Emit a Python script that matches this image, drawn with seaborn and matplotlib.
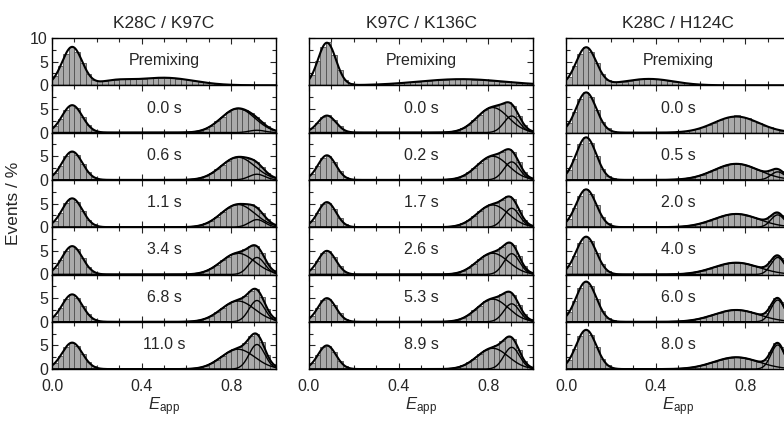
import numpy as np
import pandas as pd
import matplotlib
matplotlib.use("Agg")
import matplotlib.pyplot as plt
import seaborn as sns

sns.set_style("ticks")
plt.rcParams["font.family"] = ["Liberation Sans", "DejaVu Sans"]
plt.rcParams["mathtext.fontset"] = "custom"
plt.rcParams["mathtext.rm"] = "Liberation Sans"
plt.rcParams["mathtext.it"] = "Liberation Sans:italic"

titles = ["K28C / K97C", "K97C / K136C", "K28C / H124C"]
times_k28_k97 = ["Premixing", "0.0 s", "0.6 s", "1.1 s", "3.4 s", "6.8 s", "11.0 s"]
times_k97_k136 = ["Premixing", "0.0 s", "0.2 s", "1.7 s", "2.6 s", "5.3 s", "8.9 s"]
times_k28_h124 = ["Premixing", "0.0 s", "0.5 s", "2.0 s", "4.0 s", "6.0 s", "8.0 s"]

# E_app histogram, 40 bins of 0.025 between 0 and 1, events in %
n_bins = 40

hist_k28_k97 = [
    [1.9, 4.1, 6.7, 8.1, 7.1, 4.7, 2.4, 1.2, 0.9, 1.0, 1.1, 1.2, 1.3, 1.3, 1.3, 1.4, 1.4, 1.5, 1.6, 1.6,
     1.6, 1.5, 1.4, 1.3, 1.1, 0.9, 0.7, 0.6, 0.4, 0.3, 0.2, 0.1, 0.1, 0.1, 0, 0, 0, 0, 0, 0],
    [1.3, 2.9, 4.8, 5.8, 5.1, 3.3, 1.6, 0.6, 0.2, 0.1, 0, 0, 0, 0, 0, 0, 0, 0, 0, 0,
     0, 0, 0, 0.0, 0.1, 0.2, 0.4, 0.8, 1.5, 2.4, 3.4, 4.3, 5.0, 5.1, 4.8, 4.2, 3.3, 2.2, 1.3, 0.6],
    [1.4, 3.0, 5.0, 6.0, 5.3, 3.4, 1.6, 0.6, 0.2, 0.1, 0, 0, 0, 0, 0, 0, 0, 0, 0, 0,
     0, 0, 0, 0.0, 0.1, 0.2, 0.4, 0.8, 1.4, 2.2, 3.2, 4.1, 4.7, 4.9, 4.8, 4.5, 3.8, 2.7, 1.5, 0.7],
    [1.4, 3.1, 5.1, 6.1, 5.4, 3.5, 1.6, 0.6, 0.2, 0.1, 0, 0, 0, 0, 0, 0, 0, 0, 0, 0,
     0, 0, 0, 0.0, 0.1, 0.2, 0.4, 0.8, 1.4, 2.2, 3.2, 4.1, 4.7, 4.9, 4.9, 4.8, 4.2, 3.0, 1.7, 0.7],
    [1.4, 3.0, 5.0, 6.0, 5.3, 3.4, 1.6, 0.6, 0.2, 0.1, 0, 0, 0, 0, 0, 0, 0, 0, 0, 0,
     0, 0, 0, 0.0, 0.1, 0.2, 0.4, 0.7, 1.3, 2.1, 3.0, 3.8, 4.4, 4.8, 5.3, 6.0, 6.1, 4.5, 2.4, 0.9],
    [1.3, 2.9, 4.8, 5.8, 5.1, 3.3, 1.6, 0.6, 0.2, 0.1, 0, 0, 0, 0, 0, 0, 0, 0, 0, 0,
     0, 0, 0, 0.0, 0.1, 0.2, 0.4, 0.7, 1.3, 2.1, 2.9, 3.7, 4.3, 4.8, 5.5, 6.6, 6.9, 5.2, 2.7, 1.0],
    [1.3, 2.8, 4.6, 5.6, 4.9, 3.2, 1.5, 0.6, 0.2, 0.1, 0, 0, 0, 0, 0, 0, 0, 0, 0, 0,
     0, 0, 0, 0.0, 0.1, 0.2, 0.3, 0.7, 1.2, 2.0, 2.8, 3.6, 4.2, 4.6, 5.5, 6.9, 7.5, 5.7, 3.0, 1.1],
]

hist_k97_k136 = [
    [2.2, 5.1, 8.2, 9.2, 6.5, 3.2, 1.1, 0.4, 0.1, 0.1, 0.1, 0.2, 0.2, 0.3, 0.3, 0.4, 0.5, 0.6, 0.7, 0.8,
     0.9, 1.0, 1.1, 1.2, 1.2, 1.3, 1.3, 1.3, 1.3, 1.2, 1.2, 1.1, 1.0, 0.9, 0.8, 0.7, 0.6, 0.5, 0.4, 0.4],
    [0.9, 2.1, 3.3, 3.7, 2.6, 1.3, 0.4, 0.1, 0, 0, 0, 0, 0, 0, 0, 0, 0, 0, 0, 0,
     0, 0, 0, 0.0, 0.1, 0.2, 0.4, 0.9, 1.6, 2.7, 3.8, 4.8, 5.4, 5.7, 6.1, 6.4, 5.7, 3.5, 1.6, 0.5],
    [1.2, 3.0, 4.7, 5.1, 3.7, 1.8, 0.6, 0.2, 0, 0, 0, 0, 0, 0, 0, 0, 0, 0, 0, 0,
     0, 0, 0, 0.0, 0.1, 0.2, 0.4, 0.9, 1.6, 2.5, 3.6, 4.5, 5.1, 5.4, 6.0, 6.5, 5.8, 3.7, 1.6, 0.5],
    [1.3, 3.0, 4.8, 5.2, 3.8, 1.9, 0.6, 0.2, 0, 0, 0, 0, 0, 0, 0, 0, 0, 0, 0, 0,
     0, 0, 0, 0.0, 0.1, 0.2, 0.4, 0.8, 1.5, 2.4, 3.4, 4.2, 4.8, 5.2, 5.8, 6.5, 5.9, 3.7, 1.6, 0.5],
    [1.2, 2.9, 4.6, 4.9, 3.6, 1.8, 0.6, 0.2, 0, 0, 0, 0, 0, 0, 0, 0, 0, 0, 0, 0,
     0, 0, 0, 0.0, 0.1, 0.2, 0.4, 0.8, 1.4, 2.3, 3.2, 4.1, 4.6, 5.0, 5.9, 6.7, 6.2, 3.9, 1.7, 0.5],
    [1.2, 2.9, 4.6, 4.9, 3.6, 1.8, 0.6, 0.2, 0, 0, 0, 0, 0, 0, 0, 0, 0, 0, 0, 0,
     0, 0, 0, 0.0, 0.1, 0.2, 0.4, 0.8, 1.5, 2.4, 3.4, 4.3, 4.8, 5.2, 5.8, 6.4, 5.7, 3.6, 1.6, 0.5],
    [1.2, 2.9, 4.6, 4.9, 3.6, 1.8, 0.6, 0.2, 0, 0, 0, 0, 0, 0, 0, 0, 0, 0, 0, 0,
     0, 0, 0, 0.0, 0.1, 0.2, 0.4, 0.8, 1.4, 2.2, 3.1, 4.0, 4.5, 5.0, 5.9, 6.8, 6.4, 4.1, 1.8, 0.5],
]

hist_k28_h124 = [
    [1.8, 4.0, 6.6, 8.0, 7.1, 4.7, 2.4, 1.1, 0.7, 0.7, 0.8, 1.0, 1.2, 1.3, 1.4, 1.3, 1.3, 1.1, 1.0, 0.8,
     0.6, 0.4, 0.3, 0.2, 0.1, 0.1, 0, 0, 0, 0, 0, 0, 0, 0, 0, 0, 0, 0, 0, 0],
    [2.0, 4.3, 7.1, 8.5, 7.5, 4.8, 2.3, 0.9, 0.3, 0.1, 0, 0, 0, 0, 0, 0, 0, 0, 0, 0.1,
     0.2, 0.3, 0.5, 0.8, 1.1, 1.6, 2.1, 2.6, 3.0, 3.3, 3.8, 3.3, 3.0, 2.5, 2.0, 1.5, 1.1, 0.7, 0.4, 0.3],
    [2.1, 4.5, 7.5, 9.0, 7.9, 5.1, 2.4, 0.9, 0.3, 0.1, 0, 0, 0, 0, 0, 0, 0, 0, 0, 0.1,
     0.2, 0.3, 0.5, 0.8, 1.1, 1.6, 2.1, 2.6, 3.0, 3.3, 3.4, 3.3, 3.0, 2.5, 2.1, 1.8, 2.0, 2.3, 1.9, 0.9],
    [1.8, 4.0, 6.6, 8.0, 7.0, 4.6, 2.2, 0.8, 0.2, 0.1, 0, 0, 0, 0, 0, 0, 0, 0, 0, 0.1,
     0.1, 0.2, 0.4, 0.6, 0.9, 1.3, 1.7, 2.2, 2.5, 2.7, 2.8, 2.7, 2.4, 2.1, 1.7, 1.7, 2.3, 3.1, 2.6, 1.2],
    [1.8, 4.0, 6.6, 8.0, 7.0, 4.6, 2.2, 0.8, 0.2, 0.1, 0, 0, 0, 0, 0, 0, 0, 0, 0, 0.1,
     0.1, 0.2, 0.4, 0.6, 0.8, 1.2, 1.6, 1.9, 2.2, 2.4, 2.5, 2.4, 2.2, 1.9, 1.6, 1.7, 2.8, 4.0, 3.4, 1.5],
    [2.0, 4.3, 7.1, 8.5, 7.5, 4.8, 2.3, 0.9, 0.3, 0.1, 0, 0, 0, 0, 0, 0, 0, 0, 0, 0.1,
     0.1, 0.2, 0.4, 0.6, 0.8, 1.2, 1.6, 1.9, 2.2, 2.4, 2.5, 2.4, 2.2, 1.9, 1.6, 1.8, 3.4, 5.0, 4.2, 1.9],
    [1.9, 4.2, 6.9, 8.3, 7.3, 4.7, 2.2, 0.8, 0.2, 0.1, 0, 0, 0, 0, 0, 0, 0, 0, 0, 0.1,
     0.1, 0.2, 0.4, 0.6, 0.8, 1.2, 1.6, 1.9, 2.2, 2.4, 2.5, 2.4, 2.2, 1.9, 1.6, 1.9, 3.6, 5.5, 4.7, 2.1],
]

# gaussian fit components: (amplitude %, centre, width)
fit_k28_k97 = [
    [(8.1, 0.09, 0.045), (0.8, 0.28, 0.07), (1.6, 0.50, 0.13)],
    [(5.8, 0.09, 0.045), (5.1, 0.83, 0.075), (0.5, 0.915, 0.035)],
    [(6.0, 0.09, 0.045), (4.8, 0.83, 0.075), (1.2, 0.915, 0.035)],
    [(6.1, 0.09, 0.045), (4.8, 0.83, 0.075), (1.6, 0.915, 0.035)],
    [(6.0, 0.09, 0.045), (4.5, 0.83, 0.075), (3.6, 0.915, 0.035)],
    [(5.8, 0.09, 0.045), (4.4, 0.83, 0.075), (4.5, 0.915, 0.035)],
    [(5.6, 0.09, 0.045), (4.2, 0.83, 0.075), (5.2, 0.915, 0.035)],
]
fit_k97_k136 = [
    [(9.0, 0.08, 0.04), (1.3, 0.68, 0.19)],
    [(3.6, 0.08, 0.04), (5.3, 0.82, 0.07), (3.5, 0.905, 0.035)],
    [(5.2, 0.08, 0.04), (5.0, 0.82, 0.07), (3.8, 0.905, 0.035)],
    [(5.3, 0.08, 0.04), (4.7, 0.82, 0.07), (4.0, 0.905, 0.035)],
    [(5.0, 0.08, 0.04), (4.5, 0.82, 0.07), (4.4, 0.905, 0.035)],
    [(5.0, 0.08, 0.04), (4.8, 0.82, 0.07), (3.8, 0.905, 0.035)],
    [(5.0, 0.08, 0.04), (4.4, 0.82, 0.07), (4.6, 0.905, 0.035)],
]
fit_k28_h124 = [
    [(8.0, 0.09, 0.045), (1.35, 0.37, 0.11)],
    [(8.5, 0.09, 0.045), (3.4, 0.76, 0.10)],
    [(9.0, 0.09, 0.045), (3.4, 0.76, 0.10), (1.7, 0.945, 0.03)],
    [(8.0, 0.09, 0.045), (2.8, 0.76, 0.10), (2.6, 0.945, 0.03)],
    [(8.0, 0.09, 0.045), (2.5, 0.76, 0.10), (3.6, 0.945, 0.03)],
    [(8.5, 0.09, 0.045), (2.5, 0.76, 0.10), (4.6, 0.945, 0.03)],
    [(8.3, 0.09, 0.045), (2.5, 0.76, 0.10), (5.1, 0.945, 0.03)],
]

columns = [
    (titles[0], times_k28_k97, hist_k28_k97, fit_k28_k97),
    (titles[1], times_k97_k136, hist_k97_k136, fit_k97_k136),
    (titles[2], times_k28_h124, hist_k28_h124, fit_k28_h124),
]


def gauss(x, a, c, w):
    return a * np.exp(-(x - c) ** 2 / (2 * w ** 2))


centers = (np.arange(n_bins) + 0.5) / n_bins
xs = np.linspace(0, 1, 500)

W, H = 784, 421
fig = plt.figure(figsize=(W / 100, H / 100), dpi=100)
lefts = [52, 309, 566]
top0, rowh, colw = 38, 47.3, 224

for j, (title, times, hists, fits) in enumerate(columns):
    for i in range(7):
        top = top0 + i * rowh
        ax = fig.add_axes([lefts[j] / W, (H - top - rowh) / H, colw / W, rowh / H])
        df = pd.DataFrame({"E": centers, "pct": hists[i]})
        sns.histplot(data=df, x="E", weights="pct", bins=n_bins, binrange=(0, 1), ax=ax,
                     color="#aaaaaa", edgecolor="#505050", linewidth=0.6, alpha=1)
        total = sum(gauss(xs, *p) for p in fits[i])
        high = [p for p in fits[i] if p[1] > 0.6]
        if len(high) > 1:
            for p in high:
                sns.lineplot(x=xs, y=gauss(xs, *p), ax=ax, color="black", lw=1.0)
        sns.lineplot(x=xs, y=total, ax=ax, color="black", lw=1.5)

        ax.set_xlim(0, 1)
        if i == 0:
            ax.set_ylim(0, 10)
            ax.set_yticks([0, 5, 10])
        else:
            ax.set_ylim(0, 9.4)
            ax.set_yticks([0, 5])
        ax.set_yticks(np.arange(0, 10.1, 2.5), minor=True)
        ax.set_xticks([0, 0.4, 0.8])
        ax.set_xticks(np.arange(0, 1.01, 0.1), minor=True)
        ax.tick_params(which="both", direction="in", top=True, right=True,
                       labelsize=11.5, width=0.8)
        ax.tick_params(axis="y", pad=3)
        ax.tick_params(axis="x", pad=7)
        ax.tick_params(which="major", length=4)
        ax.tick_params(which="minor", length=3)
        for s in ax.spines.values():
            s.set_linewidth(1.0)
            s.set_color("black")
        ax.set_ylabel("")
        ax.set_xlabel("")
        if j > 0:
            ax.set_yticklabels([])
        if i < 6:
            ax.set_xticklabels([])
        else:
            ax.set_xticklabels(["0.0", "0.4", "0.8"])
            ax.set_xlabel(r"$E_{\mathrm{app}}$", fontsize=12, labelpad=1)
        if i == 0:
            ax.set_title(title, fontsize=12.5, pad=7)
        ax.text(0.5, 0.52, times[i], transform=ax.transAxes, ha="center",
                va="center", fontsize=11.5)

fig.text(14 / W, 1 - 203 / H, "Events / %", rotation=90, ha="center",
         va="center", fontsize=12.5)

fig.savefig("out.png", dpi=100)
